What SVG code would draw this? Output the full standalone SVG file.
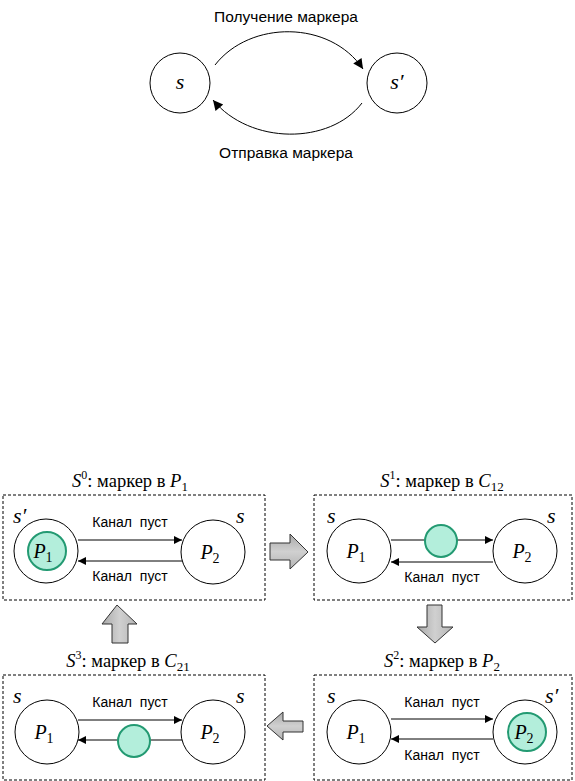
<svg xmlns="http://www.w3.org/2000/svg" width="575" height="781" viewBox="0 0 575 781">
<defs>
<style>
.node{fill:#fff;stroke:#000;stroke-width:1}
.tok{fill:#b3eedb;stroke:#239a72;stroke-width:2}
.edge{fill:none;stroke:#000;stroke-width:1}
.panel{fill:none;stroke:#000;stroke-width:1;stroke-dasharray:3,2}
.lbl{font-family:"Liberation Sans",Arial,sans-serif;font-size:15.5px;fill:#000}
.sm{font-family:"Liberation Sans",Arial,sans-serif;font-size:14px;word-spacing:4px;fill:#000}
.tm{font-family:"Liberation Serif","Times New Roman",serif;font-size:18.5px;fill:#000}
.it{font-family:"Liberation Serif","Times New Roman",serif;font-size:20px;font-style:italic;fill:#000}
.st{font-family:"Liberation Serif","Times New Roman",serif;font-size:22px;font-style:italic;fill:#000}
.blk{stroke:#333;stroke-width:1}
</style>
<marker id="ah" viewBox="0 0 10 10" refX="10" refY="5" markerWidth="11" markerHeight="8" markerUnits="userSpaceOnUse" orient="auto">
<path d="M0,0 L10,5 L0,10 z" fill="#000"/>
</marker>
<marker id="ahb" viewBox="0 0 10 10" refX="10" refY="5" markerWidth="13" markerHeight="10" markerUnits="userSpaceOnUse" orient="auto">
<path d="M0,0 L10,5 L0,10 z" fill="#000"/>
</marker>
<linearGradient id="g" x1="0" y1="0" x2="1" y2="0">
<stop offset="0" stop-color="#a8a8a8"/>
<stop offset="0.5" stop-color="#d0d0d0"/>
<stop offset="1" stop-color="#b4b4b4"/>
</linearGradient>
<linearGradient id="gv" x1="0" y1="0" x2="0" y2="1">
<stop offset="0" stop-color="#a8a8a8"/>
<stop offset="0.5" stop-color="#d0d0d0"/>
<stop offset="1" stop-color="#b4b4b4"/>
</linearGradient>
</defs>

<!-- top state graph -->
<g id="state-s">
<circle class="node" cx="180" cy="83" r="30"/>
<text class="st" x="180" y="89" text-anchor="middle">s</text>
</g>
<g id="state-s-prime">
<circle class="node" cx="397" cy="83" r="30"/>
<text class="st" x="397" y="89" text-anchor="middle">s′</text>
</g>
<g id="connectors-top">
<path class="edge" d="M215,65 C250,20 330,20 363,69" marker-end="url(#ahb)"/>
<path class="edge" d="M362,103 C330,145 250,145 213,100" marker-end="url(#ahb)"/>
<text class="lbl" x="286" y="22" text-anchor="middle">Получение маркера</text>
<text class="lbl" x="286" y="158" text-anchor="middle">Отправка маркера</text>
</g>

<!-- S0 panel -->
<g id="panel-S0">
<text class="tm" x="130" y="487" text-anchor="middle"><tspan font-style="italic">S</tspan><tspan font-size="12" dy="-8">0</tspan><tspan dy="8">: маркер в </tspan><tspan font-style="italic">P</tspan><tspan font-size="13" dy="4">1</tspan></text>
<rect class="panel" x="3" y="495" width="262" height="105"/>
<text class="st" x="13" y="523">s′</text>
<text class="st" x="236" y="523">s</text>
</g>
<g id="S0-P1">
<circle class="node" cx="46" cy="551" r="32"/>
<circle class="tok" cx="47" cy="551" r="19"/>
<text class="it" x="43" y="558" text-anchor="middle">P<tspan font-size="14" font-style="normal" dy="4">1</tspan></text>
</g>
<g id="S0-P2">
<circle class="node" cx="213" cy="552" r="32"/>
<text class="it" x="210" y="559" text-anchor="middle">P<tspan font-size="14" font-style="normal" dy="4">2</tspan></text>
</g>

<!-- S1 panel -->
<g id="panel-S1">
<text class="tm" x="442" y="487" text-anchor="middle"><tspan font-style="italic">S</tspan><tspan font-size="12" dy="-8">1</tspan><tspan dy="8">: маркер в </tspan><tspan font-style="italic">C</tspan><tspan font-size="13" dy="4">12</tspan></text>
<rect class="panel" x="314" y="495" width="258" height="105"/>
<text class="st" x="327" y="523">s</text>
<text class="st" x="547" y="523">s</text>
</g>
<g id="S1-P1">
<circle class="node" cx="359" cy="551" r="32"/>
<text class="it" x="356" y="558" text-anchor="middle">P<tspan font-size="14" font-style="normal" dy="4">1</tspan></text>
</g>
<g id="S1-P2">
<circle class="node" cx="525" cy="551" r="32"/>
<text class="it" x="522" y="558" text-anchor="middle">P<tspan font-size="14" font-style="normal" dy="4">2</tspan></text>
</g>

<!-- S2 panel -->
<g id="panel-S2">
<text class="tm" x="442" y="667" text-anchor="middle"><tspan font-style="italic">S</tspan><tspan font-size="12" dy="-8">2</tspan><tspan dy="8">: маркер в </tspan><tspan font-style="italic">P</tspan><tspan font-size="13" dy="4">2</tspan></text>
<rect class="panel" x="314" y="675" width="258" height="105"/>
<text class="st" x="327" y="703">s</text>
<text class="st" x="545" y="703">s′</text>
</g>
<g id="S2-P1">
<circle class="node" cx="359" cy="732" r="32"/>
<text class="it" x="356" y="739" text-anchor="middle">P<tspan font-size="14" font-style="normal" dy="4">1</tspan></text>
</g>
<g id="S2-P2">
<circle class="node" cx="525" cy="732" r="32"/>
<circle class="tok" cx="527" cy="732" r="19"/>
<text class="it" x="524" y="739" text-anchor="middle">P<tspan font-size="14" font-style="normal" dy="4">2</tspan></text>
</g>

<!-- S3 panel -->
<g id="panel-S3">
<text class="tm" x="128" y="667" text-anchor="middle"><tspan font-style="italic">S</tspan><tspan font-size="12" dy="-8">3</tspan><tspan dy="8">: маркер в </tspan><tspan font-style="italic">C</tspan><tspan font-size="13" dy="4">21</tspan></text>
<rect class="panel" x="3" y="675" width="262" height="105"/>
<text class="st" x="13" y="703">s</text>
<text class="st" x="236" y="703">s</text>
</g>
<g id="S3-P1">
<circle class="node" cx="47" cy="732" r="32"/>
<text class="it" x="44" y="739" text-anchor="middle">P<tspan font-size="14" font-style="normal" dy="4">1</tspan></text>
</g>
<g id="S3-P2">
<circle class="node" cx="213" cy="732" r="32"/>
<text class="it" x="210" y="739" text-anchor="middle">P<tspan font-size="14" font-style="normal" dy="4">2</tspan></text>
</g>

<!-- connectors -->
<g id="connectors">
<line class="edge" x1="78" y1="540" x2="182" y2="540" marker-end="url(#ah)"/>
<line class="edge" x1="182" y1="561" x2="78" y2="561" marker-end="url(#ah)"/>
<text class="sm" x="130" y="527" text-anchor="middle">Канал пуст</text>
<text class="sm" x="130" y="581" text-anchor="middle">Канал пуст</text>

<line class="edge" x1="391" y1="540" x2="493" y2="540" marker-end="url(#ah)"/>
<line class="edge" x1="493" y1="562" x2="391" y2="562" marker-end="url(#ah)"/>
<text class="sm" x="442" y="582" text-anchor="middle">Канал пуст</text>

<line class="edge" x1="391" y1="719" x2="493" y2="719" marker-end="url(#ah)"/>
<line class="edge" x1="493" y1="739" x2="391" y2="739" marker-end="url(#ah)"/>
<text class="sm" x="442" y="707" text-anchor="middle">Канал пуст</text>
<text class="sm" x="442" y="760" text-anchor="middle">Канал пуст</text>

<line class="edge" x1="78" y1="720" x2="182" y2="720" marker-end="url(#ah)"/>
<line class="edge" x1="182" y1="740" x2="78" y2="740" marker-end="url(#ah)"/>
<text class="sm" x="130" y="707" text-anchor="middle">Канал пуст</text>

<path class="blk" fill="url(#gv)" d="M270,543 H290 V534 L308,552 L290,569 V560 H270 Z"/>
<path class="blk" fill="url(#g)" d="M427,605 H442 V627 H453 L435,643 L417,627 H427 Z"/>
<path class="blk" fill="url(#gv)" d="M303,721 H283 V712 L267,726 L283,740 V732 H303 Z"/>
<path class="blk" fill="url(#g)" d="M112,643 V624 H102 L117,605 L137,624 H128 V643 Z"/>
</g>

<!-- tokens in channels -->
<g id="token-C12">
<circle class="tok" cx="441" cy="541" r="16"/>
</g>
<g id="token-C21">
<circle class="tok" cx="134" cy="741" r="16"/>
</g>
</svg>
